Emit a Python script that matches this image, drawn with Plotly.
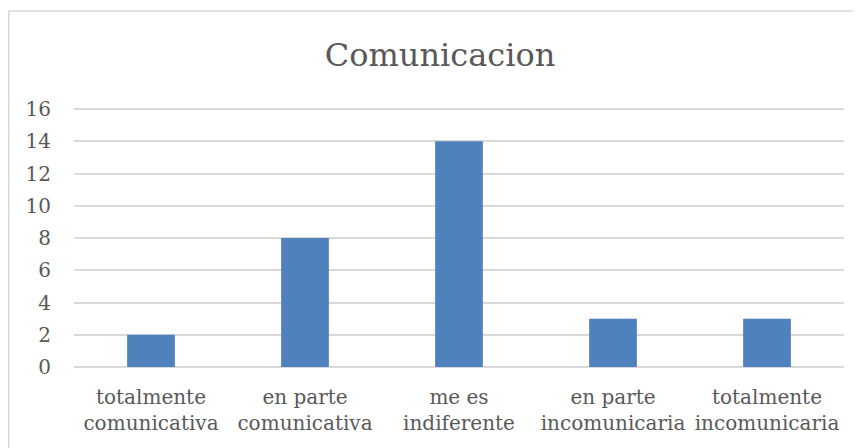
import plotly.graph_objects as go

categories = ["totalmente<br>comunicativa", "en parte<br>comunicativa", "me es<br>indiferente",
              "en parte<br>incomunicaria", "totalmente<br>incomunicaria"]
values = [2, 8, 14, 3, 3]
y_ticks = [0, 2, 4, 6, 8, 10, 12, 14, 16]

FONT = "DejaVu Serif"
TXT = "#595959"

fig = go.Figure(go.Bar(x=categories, y=values, marker=dict(color="#4f81bd", line=dict(width=0))))

# page body has an 8px margin, so figure coords = screen coords - 8
OFF = 8
PAD = 2  # px of padding above 16 and below 0 so edge gridlines are drawn
W, H = 861, 448
L = 74 - OFF
T = 109 - OFF - PAD
R = W - (844 - OFF)
B = H - (367 - OFF) - PAD
pw = W - L - R
ph = H - T - B
unit_px = (367 - 109) / 16.0
pad_u = PAD / unit_px

fig.update_layout(
    width=W, height=H,
    margin=dict(l=L, r=R, t=T, b=B, pad=0),
    paper_bgcolor="white", plot_bgcolor="white",
    bargap=0.69,
    showlegend=False,
    title=dict(text="Comunicacion", x=(440 - OFF - L) / pw, xref="paper", xanchor="center",
               y=1 - (55 - OFF) / H, yanchor="middle", yref="container",
               font=dict(family=FONT, size=32, color=TXT)),
    font=dict(family=FONT, size=20, color=TXT),
    xaxis=dict(showgrid=False, zeroline=False, showline=False, ticks="", ticklabelstandoff=14,
               tickfont=dict(family=FONT, size=20, color=TXT), fixedrange=True),
    yaxis=dict(range=[-pad_u, 16 + pad_u], tickvals=y_ticks, showgrid=True, gridcolor="#d9d9d9",
               gridwidth=1.5, zeroline=False, showline=False, ticks="", ticklabelstandoff=22,
               tickfont=dict(family=FONT, size=20, color=TXT), fixedrange=True),
    shapes=[dict(type="rect", xref="paper", yref="paper",
                 x0=(0.75 - L) / pw, x1=(W + 10 - L) / pw,
                 y0=-(H + 10 - T - ph) / ph, y1=1 + (T - 3) / ph,
                 line=dict(color="#d9d9d9", width=1.5), fillcolor="rgba(0,0,0,0)", layer="below")],
)

fig.write_html("out.html")
